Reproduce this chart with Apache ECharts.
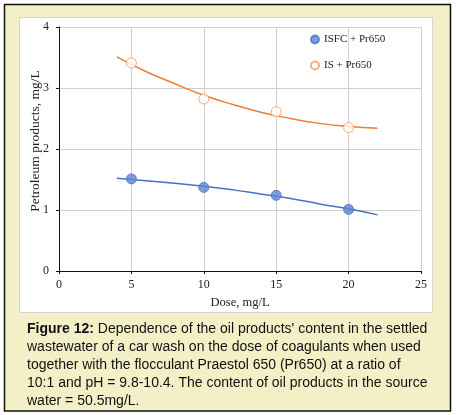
<!DOCTYPE html>
<html>
<head>
<meta charset="utf-8">
<script src="https://cdn.jsdelivr.net/npm/echarts@6/dist/echarts.min.js"></script>
<style>
  html, body {margin: 0; padding: 0; background: #fff;}
  #chart {width: 456px; height: 415px;}
</style>
</head>
<body>
<div id="chart"></div>
<script>
// measured points
const doses = [5, 10, 15, 20];
const isfcValues = [1.51, 1.37, 1.24, 1.01];
const isValues = [3.41, 2.82, 2.61, 2.35];

// trend curves
const trendDoses = [4, 6, 8, 10, 12, 14, 16, 18, 20, 22];
const isfcTrend = [1.52, 1.48, 1.44, 1.39, 1.33, 1.26, 1.19, 1.10, 1.02, 0.92];
const isTrend = [3.51, 3.27, 3.07, 2.88, 2.73, 2.60, 2.50, 2.42, 2.37, 2.34];

const seriesNames = ['ISFC + Pr650', 'IS + Pr650'];
const captionLines = [
    "Dependence of the oil products' content in the settled",
    'wastewater of a car wash on the dose of coagulants when used',
    'together with the flocculant Praestol 650 (Pr650) at a ratio of',
    '10:1 and pH = 9.8-10.4. The content of oil products in the source',
    'water = 50.5mg/L.',
];

const BLUE = '#4472C4';
const ORANGE = '#ED7D31';
const serif = '"Liberation Serif", "Times New Roman", serif';
const sans = '"Liberation Sans", Arial, sans-serif';

function pairs(xs, ys) {
    return xs.map((x, i) => [x, ys[i]]);
}

const myChart = echarts.init(document.getElementById('chart'), null, {renderer: 'canvas'});

const option = {
    animation: false,
    backgroundColor: '#fff',
    graphic: [
        {
            type: 'rect', z: -10, silent: true,
            shape: {x: 4.5, y: 4.5, width: 446, height: 406.5},
            style: {fill: '#F3F0C7', stroke: '#111', lineWidth: 1.5},
        },
        {
            type: 'rect', z: -9, silent: true,
            shape: {x: 19.5, y: 17.5, width: 413, height: 295},
            style: {fill: '#fff', stroke: '#d4d4c8', lineWidth: 1},
        },
        {
            type: 'text', left: 27, top: 320, silent: true,
            style: {
                text: '{b|Figure 12:} ' + captionLines[0] + '\n' + captionLines.slice(1).join('\n'),
                font: '14px ' + sans,
                fill: '#111',
                lineHeight: 18,
                rich: {
                    b: {font: 'bold 14px ' + sans, fill: '#111', lineHeight: 18},
                },
            },
        },
    ],
    legend: {
        orient: 'vertical',
        left: 305,
        top: 29,
        itemGap: 15,
        itemWidth: 8,
        itemHeight: 8,
        data: [
            {name: seriesNames[0], icon: 'circle'},
            {name: seriesNames[1], icon: 'circle'},
        ],
        textStyle: {fontFamily: serif, fontSize: 11, color: '#222'},
    },
    grid: {left: 59, right: 35, top: 27, bottom: 144},
    xAxis: {
        type: 'value',
        min: 0, max: 25, interval: 5,
        name: 'Dose, mg/L',
        nameLocation: 'middle',
        nameGap: 25,
        nameTextStyle: {fontFamily: serif, fontSize: 12.5, color: '#222'},
        axisLine: {lineStyle: {color: '#111', width: 1}},
        axisTick: {show: true, length: 3, lineStyle: {color: '#111'}},
        axisLabel: {fontFamily: serif, fontSize: 12, color: '#222', margin: 8},
        splitLine: {show: true, lineStyle: {color: '#d0d0d0', width: 1}},
    },
    yAxis: {
        type: 'value',
        min: 0, max: 4, interval: 1,
        name: 'Petroleum products, mg/L',
        nameLocation: 'middle',
        nameGap: 17,
        nameMoveOverlap: false,
        nameTextStyle: {fontFamily: serif, fontSize: 13.5, color: '#222', padding: [0, 0, 0, 16]},
        axisLine: {show: true, lineStyle: {color: '#111', width: 1}},
        axisTick: {show: true, length: 3, lineStyle: {color: '#111'}},
        axisLabel: {fontFamily: serif, fontSize: 12, color: '#222', margin: 10},
        splitLine: {show: true, lineStyle: {color: '#d0d0d0', width: 1}},
    },
    series: [
        {
            name: seriesNames[0] + ' trend',
            type: 'line',
            smooth: true,
            showSymbol: false,
            data: pairs(trendDoses, isfcTrend),
            lineStyle: {color: BLUE, width: 1.5},
            z: 2,
        },
        {
            name: seriesNames[1] + ' trend',
            type: 'line',
            smooth: true,
            showSymbol: false,
            data: pairs(trendDoses, isTrend),
            lineStyle: {color: ORANGE, width: 1.5},
            z: 2,
        },
        {
            name: seriesNames[0],
            type: 'scatter',
            symbol: 'circle',
            symbolSize: 10,
            data: pairs(doses, isfcValues),
            itemStyle: {color: '#5B84D2', borderColor: '#4A74C6', borderWidth: 1},
            z: 3,
        },
        {
            name: seriesNames[1],
            type: 'scatter',
            symbol: 'circle',
            symbolSize: 10,
            data: pairs(doses, isValues),
            itemStyle: {color: '#fff', borderColor: '#EE9A62', borderWidth: 1},
            z: 3,
        },
    ],
};

myChart.setOption(option);
</script>
</body>
</html>
